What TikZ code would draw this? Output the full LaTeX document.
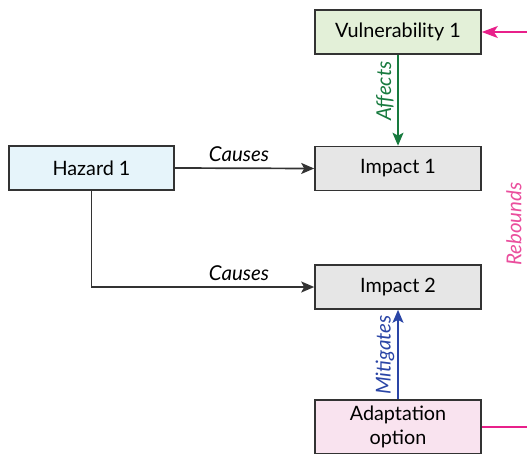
\documentclass[tikz,border=0pt]{standalone}
\usepackage{fontspec}
\setmainfont{Lato}
\usetikzlibrary{arrows.meta}
\definecolor{boxline}{HTML}{333333}
\definecolor{vulnfill}{HTML}{E3F0D8}
\definecolor{hazfill}{HTML}{E6F4FA}
\definecolor{impfill}{HTML}{E6E6E6}
\definecolor{adaptfill}{HTML}{F9E3EF}
\definecolor{affectgreen}{HTML}{177A3E}
\definecolor{mitblue}{HTML}{2A45A6}
\definecolor{rebpink}{HTML}{E8208A}
\definecolor{reblabel}{HTML}{EA4E9D}
\tikzset{
  box/.style={draw=boxline, line width=1.6pt, minimum width=166pt, minimum height=44pt,
    inner sep=0pt, font=\fontsize{19.8}{24.5}\selectfont, align=center},
  link/.style={line width=1.7pt, -{Stealth[length=13pt,width=11pt,inset=3pt]}},
  lbl/.style={font=\fontsize{20.5}{24}\selectfont\itshape},
}
\begin{document}
\begin{tikzpicture}[x=1pt, y=-1pt]
\useasboundingbox (0,0) rectangle (527,453);
\clip (0,0) rectangle (527,453);
% boxes
\node[box, fill=vulnfill] (vul) at (398,32) {Vulnerability 1};
\node[box, fill=hazfill, minimum width=165pt] (haz) at (91.5,168) {Hazard 1};
\node[box, fill=impfill] (imp1) at (398,168.5) {Impact 1};
\node[box, fill=impfill] (imp2) at (398,287) {Impact 2};
\node[box, fill=adaptfill, minimum height=54pt] (ada) at (398,427)
  {Adaptation\\option};
% hazard causes impacts
\draw[link, draw=boxline] (haz.east) -- (imp1.west);
\node[lbl] at (239,154) {Causes};
\draw[link, draw=boxline] (haz.south) |- (imp2.west);
\node[lbl] at (239,273) {Causes};
% vulnerability affects impact 1
\draw[link, draw=affectgreen] (vul.south) -- (imp1.north);
\node[lbl, text=affectgreen, rotate=90] at (385,91) {Affects};
% adaptation mitigates impact 2
\draw[link, draw=mitblue] (ada.north) -- (imp2.south);
\node[lbl, text=mitblue, rotate=90] at (385,355) {Mitigates};
% rebound loop leaving the frame on the right
\coordinate (rbot) at (545,427);
\coordinate (rtop) at (545,32);
\draw[line width=1.7pt, draw=rebpink, -{Stealth[length=16pt,width=12pt,inset=4pt]}]
  (ada.east) -- (rbot) -- (rtop) -- (vul.east);
\node[lbl, text=reblabel, rotate=90] at (514,224) {Rebounds};
\end{tikzpicture}
\end{document}
